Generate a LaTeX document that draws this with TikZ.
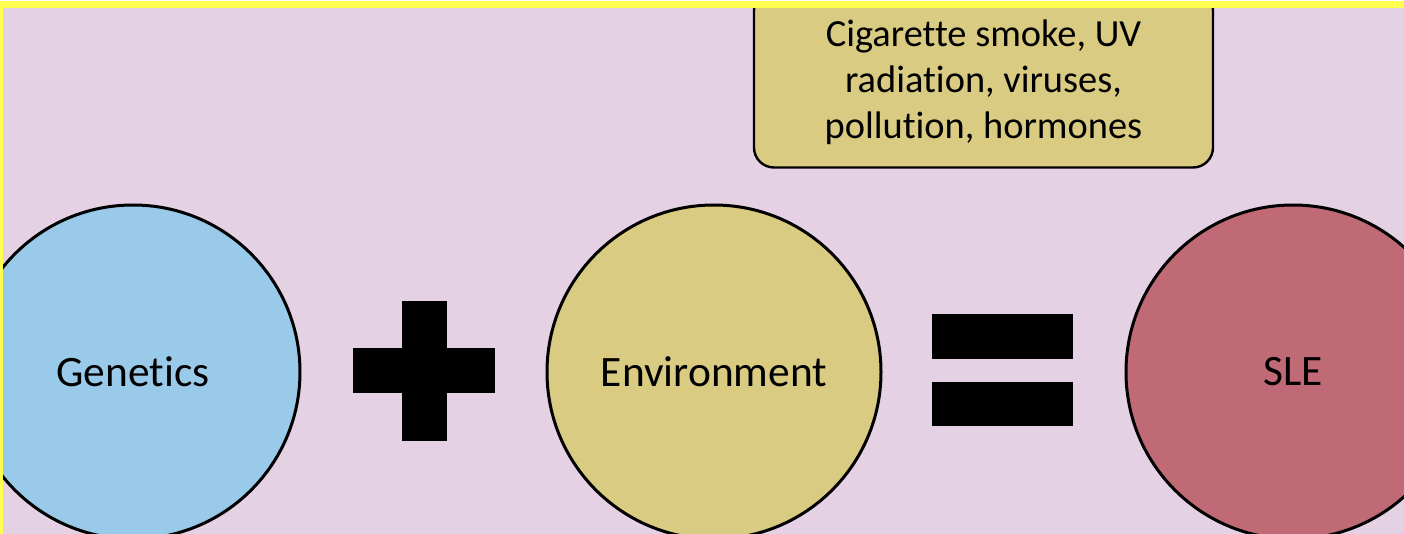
\documentclass[tikz,border=0pt]{standalone}
\usepackage{fontspec}
\setmainfont{Carlito}[Ligatures={NoCommon}]
\definecolor{bgpink}{RGB}{229,209,228}
\definecolor{bandyellow}{RGB}{255,255,80}
\definecolor{gblue}{RGB}{153,202,234}
\definecolor{khaki}{RGB}{217,203,130}
\definecolor{slered}{RGB}{192,106,117}
\tikzset{
  bigcircle/.style={circle, draw=black, line width=1.5pt, minimum size=167pt, inner sep=0pt, font=\fontsize{21.7}{26}\selectfont},
  factorbox/.style={rectangle, rounded corners=10pt, draw=black, line width=1.2pt, fill=khaki,
    minimum width=229.5pt, minimum height=88.5pt, inner sep=0pt},
  factortext/.style={align=center, inner sep=0pt, font=\fontsize{19.2}{23}\selectfont},
  opbar/.style={fill=black, draw=none}
}
\begin{document}
\begin{tikzpicture}[x=0.5pt, y=-0.5pt]
\useasboundingbox (0,0) rectangle (1404,534);
\clip (0,0) rectangle (1404,534);
\fill[bgpink] (0,0) rectangle (1404,534);
% circles
\node[bigcircle, fill=gblue] (gen) at (133,372) {Genetics};
\node[bigcircle, fill=khaki] (env) at (714,372) {Environment};
\node[bigcircle, fill=slered] (sle) at (1293,372) {SLE};
% factors box
\node[factorbox] (factors) at (983.5,79) {};
\node[factortext] (factorlabel) at (983.5,82) {Cigarette smoke, UV\\radiation, viruses,\\pollution, hormones};
% plus sign
\fill[opbar] (402,301) rectangle (447,441);
\fill[opbar] (353,348.5) rectangle (494.5,393.5);
% equals sign
\fill[opbar] (932,314.5) rectangle (1073,359);
\fill[opbar] (932,382) rectangle (1073,426.5);
% frame bands
\fill[white] (0,0) rectangle (1404,1.5);
\fill[bandyellow] (0,1.5) rectangle (1404,8);
\fill[bandyellow] (0,1.5) rectangle (3,534);
\end{tikzpicture}
\end{document}
